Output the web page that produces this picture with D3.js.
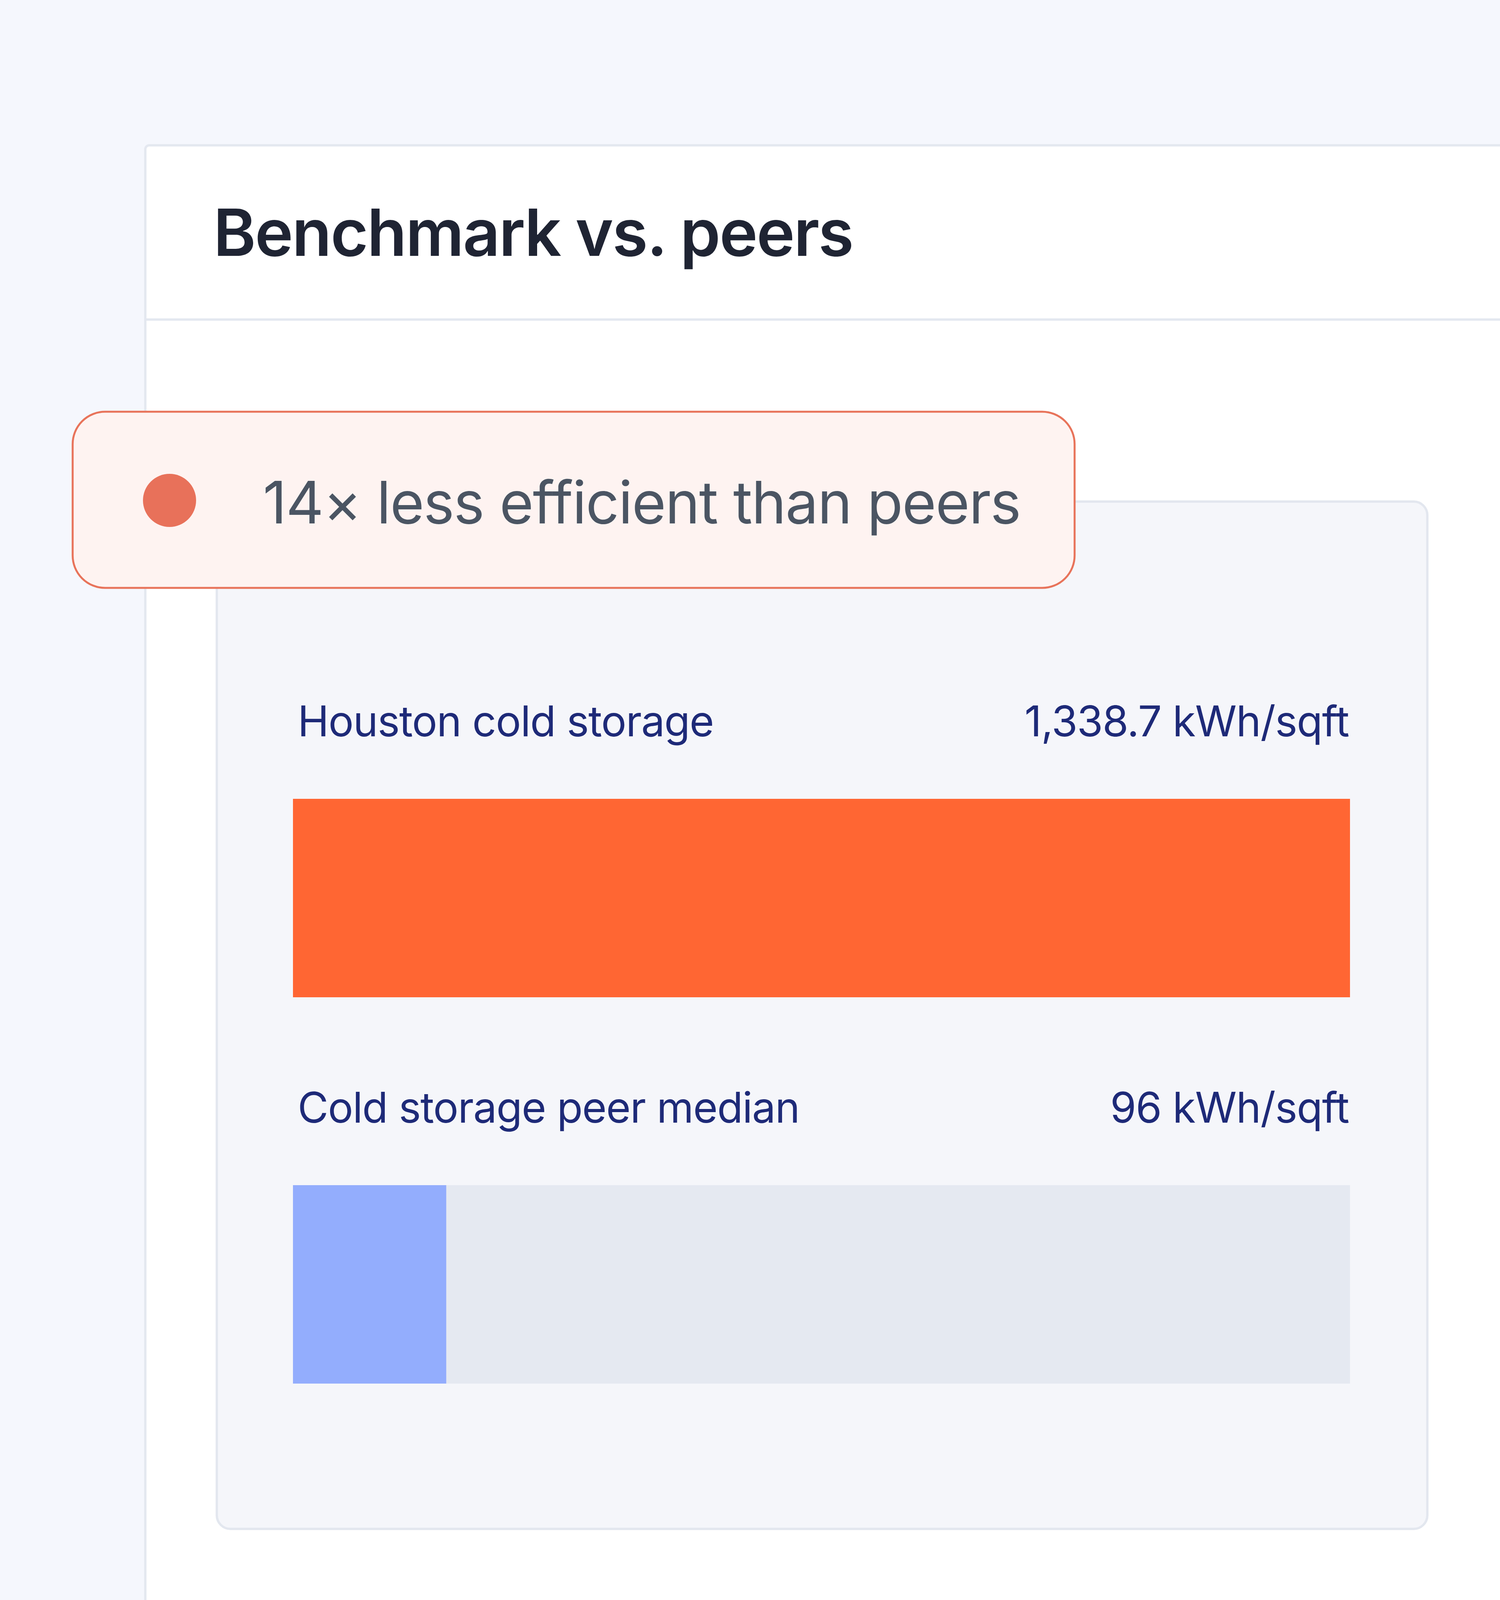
<!DOCTYPE html>
<html><head><meta charset="utf-8">
<script src="https://cdn.jsdelivr.net/npm/d3@7"></script>
<style>body{margin:0;background:#f5f7fd;}svg{display:block;}</style>
</head><body>
<script>
const title = "Benchmark vs. peers";
const badgeText = "14× less efficient than peers";
const categories = ["Houston cold storage", "Cold storage peer median"];
const values = [1338.7, 96];
const valueLabels = ["1,338.7 kWh/sqft", "96 kWh/sqft"];
const barColors = ["#ff6633", "#93adfd"];

const W = 3840, H = 4629;
const svg = d3.select("body").append("svg").attr("width", W).attr("height", H);
svg.append("rect").attr("width", W).attr("height", H).attr("fill", "#f5f7fd");
const font = "Inter, 'Noto Sans', sans-serif";

// outer card
svg.append("rect").attr("x", 372).attr("y", 372).attr("width", 3600).attr("height", 3884)
  .attr("rx", 10).attr("fill", "#fff").attr("stroke", "#e4e8f0").attr("stroke-width", 6);
svg.append("line").attr("x1", 372).attr("x2", W).attr("y1", 818).attr("y2", 818)
  .attr("stroke", "#e4e8f0").attr("stroke-width", 6);
svg.append("text").attr("x", 546).attr("y", 655).text(title)
  .attr("font-family", font).attr("font-size", 166).attr("font-weight", 600)
  .attr("fill", "#1f2433").attr("letter-spacing", -3);

// inner panel
svg.append("rect").attr("x", 555).attr("y", 1284).attr("width", 3099).attr("height", 2630)
  .attr("rx", 35).attr("fill", "#f5f6fa").attr("stroke", "#e3e7ef").attr("stroke-width", 6);

// badge
svg.append("rect").attr("x", 186).attr("y", 1054).attr("width", 2565).attr("height", 451)
  .attr("rx", 83).attr("fill", "#fef3f1").attr("stroke", "#e8735a").attr("stroke-width", 5);
svg.append("circle").attr("cx", 434).attr("cy", 1281).attr("r", 68).attr("fill", "#e8715a");
svg.append("text").attr("x", 673).attr("y", 1340).text(badgeText)
  .attr("font-family", font).attr("font-size", 150).attr("fill", "#4b5563").attr("letter-spacing", -2);

// bars
const x = d3.scaleLinear().domain([0, d3.max(values)]).range([750, 3456]);
const minFrac = 0.145;
const rowY = d3.scalePoint().domain(categories).range([2045, 3034]);
const barH = 508;
categories.forEach((c, i) => {
  const y0 = rowY(c);
  svg.append("text").attr("x", 762).attr("y", y0 - 160).text(c)
    .attr("font-family", font).attr("font-size", 108).attr("fill", "#1e2a78").attr("letter-spacing", -1.5);
  svg.append("text").attr("x", 3453).attr("y", y0 - 160).attr("text-anchor", "end").text(valueLabels[i])
    .attr("font-family", font).attr("font-size", 108).attr("fill", "#1e2a78").attr("letter-spacing", -1.5);
  svg.append("rect").attr("x", x(0)).attr("y", y0).attr("width", x.range()[1] - x(0)).attr("height", barH)
    .attr("fill", "#e5e9f1");
  const w = Math.max(x(values[i]) - x(0), (x.range()[1] - x(0)) * minFrac);
  svg.append("rect").attr("x", x(0)).attr("y", y0).attr("width", w).attr("height", barH)
    .attr("fill", barColors[i]);
});
</script>
</body></html>
